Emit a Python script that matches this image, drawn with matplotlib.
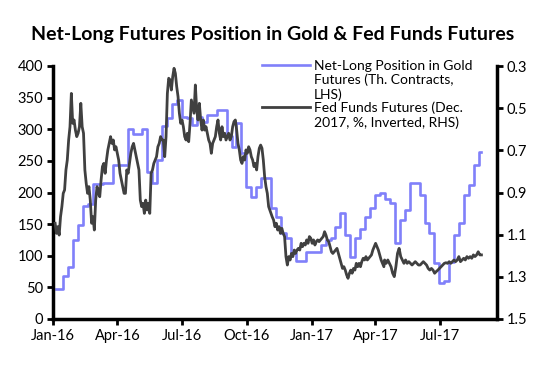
import matplotlib
matplotlib.use("Agg")
import matplotlib.pyplot as plt
import matplotlib.dates as mdates
import pandas as pd

plt.rcParams['font.family'] = ['Lato', 'DejaVu Sans']

# weekly CFTC net-long position in gold futures, thousand contracts
gold_start = '2016-01-05'
gold_net_long = [47, 47, 68, 83, 125, 148, 179, 182, 213, 213,
                 215, 215, 243, 243, 243, 300, 293, 293, 300, 232,
                 215, 251, 305, 318, 340, 346, 320, 318, 307, 320,
                 312, 322, 322, 330, 330, 290, 272, 310, 262, 209,
                 193, 209, 223, 223, 175, 162, 136, 128, 104, 91,
                 91, 106, 106, 106, 117, 125, 128, 146, 167, 133,
                 98, 128, 143, 162, 175, 196, 199, 190, 183, 120,
                 157, 172, 215, 215, 196, 152, 136, 88, 57, 60,
                 90, 133, 152, 196, 212, 244, 264]

# Dec-2017 fed funds futures implied rate (%), read in four stretches
fed_a = [1.046, 1.094, 1.062, 1.102, 1.015, 0.967, 0.904, 0.888, 0.793, 0.746,
         0.651, 0.588, 0.430, 0.572, 0.556, 0.604, 0.635, 0.619, 0.588, 0.477,
         0.588, 0.619, 0.793, 0.857, 0.904, 0.872, 0.936, 1.046, 1.015, 1.078,
         0.936, 0.872, 0.904, 0.920, 0.841, 0.777, 0.762, 0.809, 0.746, 0.698,
         0.667, 0.635, 0.667, 0.651, 0.698, 0.683, 0.714, 0.746, 0.809, 0.841,
         0.872, 0.904, 0.904, 0.793, 0.809, 0.762, 0.714, 0.683, 0.667, 0.698,
         0.730, 0.762, 0.793, 0.936, 0.967, 0.951, 0.999, 0.936, 0.983, 0.951,
         0.999, 0.809, 0.793, 0.762, 0.746, 0.730, 0.683, 0.667, 0.635, 0.651,
         0.651]
fed_b = [0.730, 0.635, 0.430, 0.358, 0.366, 0.414, 0.351, 0.311, 0.335, 0.398,
         0.445, 0.524, 0.572, 0.556, 0.588, 0.635, 0.651, 0.619, 0.659, 0.572,
         0.461, 0.493, 0.524, 0.390, 0.509, 0.556, 0.477, 0.556, 0.604, 0.556,
         0.604, 0.588, 0.619, 0.651, 0.667, 0.714, 0.667, 0.651, 0.635, 0.588,
         0.556, 0.619, 0.651, 0.588, 0.635, 0.619, 0.651, 0.635, 0.619, 0.651,
         0.635, 0.588, 0.564, 0.556, 0.604, 0.667, 0.698, 0.746, 0.762, 0.730,
         0.746, 0.698, 0.714, 0.683, 0.698, 0.730, 0.746, 0.777, 0.762, 0.793,
         0.730, 0.690, 0.675, 0.690, 0.746, 0.825, 0.872, 0.904, 0.967]
fed_c = [1.015, 1.030, 1.062, 1.046, 1.078, 1.062, 1.094, 1.070, 1.094, 1.109,
         1.204, 1.244, 1.204, 1.220, 1.189, 1.204, 1.173, 1.189, 1.173, 1.165,
         1.173, 1.141, 1.157, 1.141, 1.149, 1.125, 1.141, 1.109, 1.117, 1.141,
         1.125, 1.149, 1.133, 1.125, 1.133, 1.125, 1.117, 1.109, 1.086, 1.102,
         1.125, 1.133, 1.157, 1.181, 1.189, 1.181, 1.173, 1.165, 1.189, 1.212,
         1.236, 1.260, 1.252, 1.268, 1.291, 1.307, 1.283, 1.268, 1.283, 1.260,
         1.268, 1.236, 1.252, 1.236, 1.252, 1.228, 1.212, 1.220, 1.204, 1.220,
         1.212, 1.204, 1.196, 1.173, 1.157, 1.141, 1.157, 1.173, 1.196, 1.220,
         1.236, 1.252]
fed_d = [1.220, 1.236, 1.220, 1.236, 1.252, 1.283, 1.299, 1.252, 1.189, 1.165,
         1.204, 1.220, 1.236, 1.220, 1.236, 1.228, 1.236, 1.244, 1.236, 1.228,
         1.236, 1.244, 1.244, 1.236, 1.228, 1.236, 1.244, 1.260, 1.268, 1.260,
         1.268, 1.283, 1.275, 1.268, 1.260, 1.252, 1.244, 1.236, 1.233, 1.236,
         1.228, 1.236, 1.228, 1.220, 1.228, 1.220, 1.204, 1.228, 1.220, 1.212,
         1.220, 1.204, 1.212, 1.204, 1.212, 1.196, 1.204, 1.196, 1.181, 1.196,
         1.196]
fed_segments = [('2016-01-04', '2016-06-05', fed_a),
                ('2016-06-07', '2016-11-01', fed_b),
                ('2016-11-06', '2017-04-13', fed_c),
                ('2017-04-14', '2017-08-29', fed_d)]

left_ticks = [0, 50, 100, 150, 200, 250, 300, 350, 400]
right_ticks = [0.3, 0.5, 0.7, 0.9, 1.1, 1.3, 1.5]

gold_dates = pd.date_range(gold_start, periods=len(gold_net_long), freq='7D')
fed_dates, fed_vals = [], []
for start, end, vals in fed_segments:
    fed_dates.extend(pd.date_range(start, end, periods=len(vals)))
    fed_vals.extend(vals)

fig = plt.figure(figsize=(5.4, 3.65), dpi=100)
ax = fig.add_axes([53 / 540, 1 - 319 / 365, 444 / 540, 253 / 365])
ax2 = ax.twinx()

l1, = ax.plot(gold_dates, gold_net_long, color='#8080fa', lw=1.9,
              drawstyle='steps-mid',
              label='Net-Long Position in Gold\nFutures (Th. Contracts,\nLHS)')
l2, = ax2.plot(fed_dates, fed_vals, color='#404040', lw=2.0,
               label='Fed Funds Futures (Dec.\n2017, %, Inverted, RHS)')

ax.set_ylim(0, 400)
ax.set_yticks(left_ticks)
ax2.set_ylim(1.5, 0.3)
ax2.set_yticks(right_ticks)
ax2.set_yticklabels([f'{t:.1f}' for t in right_ticks])

ax.set_xlim(pd.Timestamp('2016-01-01'), pd.Timestamp('2017-09-20'))
ax.xaxis.set_major_locator(mdates.MonthLocator(bymonth=[1, 4, 7, 10]))
ax.xaxis.set_major_formatter(mdates.DateFormatter('%b-%y'))

for a in (ax, ax2):
    a.spines['top'].set_visible(False)
    for s in a.spines.values():
        s.set_linewidth(2.5)
    a.tick_params(direction='out', length=4, width=2, labelsize=10.5, pad=3)
ax.spines['right'].set_visible(False)
ax2.spines['left'].set_visible(False)
ax2.spines['bottom'].set_visible(False)

leg = ax2.legend(handles=[l1, l2], loc='upper left',
                 bbox_to_anchor=(0.471, 1.025), frameon=False, fontsize=10,
                 handlelength=3.45, handletextpad=0.25, labelspacing=0.05,
                 borderpad=0, borderaxespad=0, handleheight=1.0)
for col in leg._legend_handle_box.get_children():
    for item in col.get_children():
        item.align = 'top'

fig.text(0.505, 0.905, 'Net-Long Futures Position in Gold & Fed Funds Futures',
         ha='center', va='center', fontsize=14, fontweight='bold')

fig.savefig('out.png', dpi=100)
